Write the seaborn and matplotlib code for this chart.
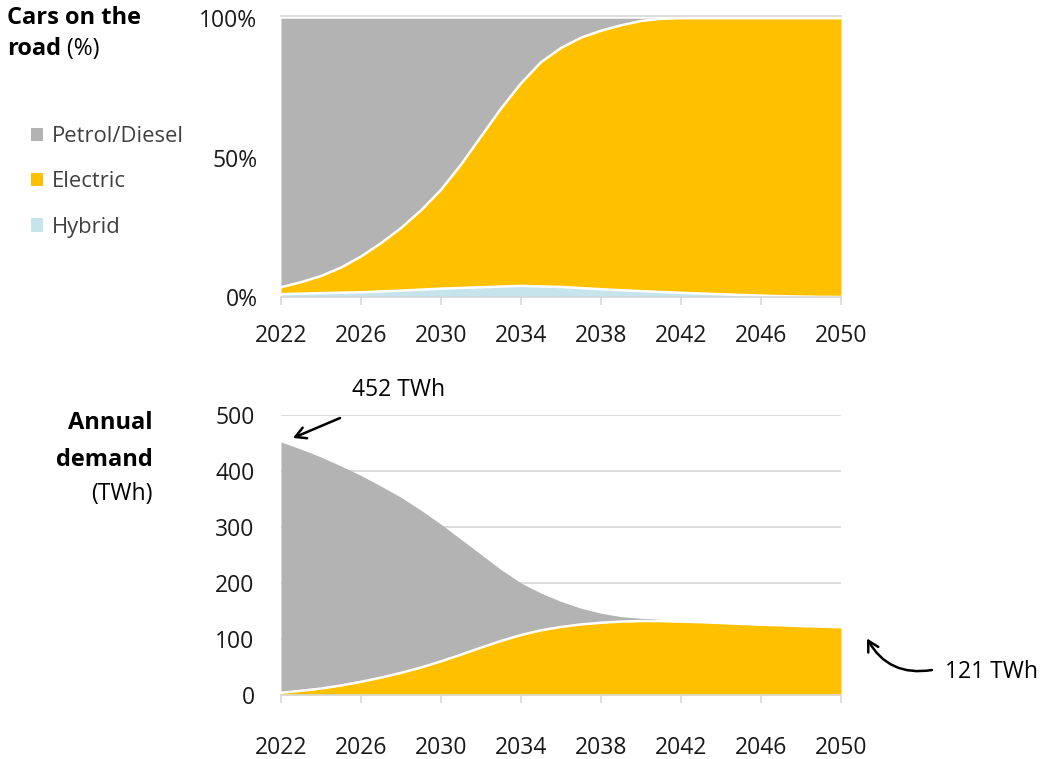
import matplotlib
matplotlib.use("Agg")
import matplotlib.pyplot as plt
from matplotlib.patches import Patch
import seaborn as sns
import pandas as pd

# ---- data -------------------------------------------------------------
years = list(range(2022, 2051))

# share of cars on the road (%)
share_hybrid = [1.0, 1.2, 1.4, 1.55, 1.7, 2.0, 2.3, 2.65, 3.0, 3.25, 3.5, 3.75,
                4.0, 3.8, 3.6, 3.2, 2.8, 2.45, 2.1, 1.8, 1.5, 1.25, 1.0, 0.75,
                0.5, 0.3, 0.15, 0.05, 0.0]
share_electric = [2.5, 4.1, 6.1, 9.0, 12.8, 17.3, 22.4, 28.4, 35.4, 44.2, 54.0,
                  63.8, 72.6, 80.4, 85.7, 89.8, 92.7, 95.0, 96.9, 98.0, 98.5,
                  98.75, 99.0, 99.25, 99.5, 99.7, 99.85, 99.95, 100.0]
share_petrol = [96.5, 94.7, 92.5, 89.45, 85.5, 80.7, 75.3, 68.95, 61.6, 52.55,
                42.5, 32.45, 23.4, 15.8, 10.7, 7.0, 4.5, 2.55, 1.0, 0.2, 0.0,
                0.0, 0.0, 0.0, 0.0, 0.0, 0.0, 0.0, 0.0]

# annual energy demand (TWh)
demand_electric = [4, 7.5, 11.5, 17, 23.5, 31, 39.5, 49, 60, 72, 84.5, 96.5,
                   107, 115.5, 121.5, 126, 129, 131, 132, 132, 131, 130, 128.5,
                   127, 125.5, 124.5, 123, 122, 121]
demand_petrol = [448, 431.5, 413.5, 392, 368.5, 342, 313.5, 281, 245, 206,
                 166.5, 127.5, 93, 66.5, 45.5, 29, 17, 9, 5, 3, 2, 1, 0.5,
                 0.5, 0.5, 0.5, 0, 0, 0]

series_names = ["Petrol/Diesel", "Electric", "Hybrid"]
x_ticks = [2022, 2026, 2030, 2034, 2038, 2042, 2046, 2050]
share_ticks = [0, 50, 100]
share_tick_labels = ["0%", "50%", "100%"]
demand_ticks = [0, 100, 200, 300, 400, 500]

first_label = "452 TWh"
last_label = "121 TWh"

# ---- style ------------------------------------------------------------
C_PETROL = "#b3b3b3"
C_ELEC = "#ffc000"
C_HYB = "#c6e4ec"
C_AXIS = "#d9d9d9"
FS = 16.5
FS_TITLE = 17
FS_LEG = 15.8

sns.set_theme(style="white")
plt.rcParams["font.family"] = ["Open Sans", "DejaVu Sans"]
plt.rcParams["font.size"] = FS

df_share = pd.DataFrame({"year": years, "hybrid": share_hybrid,
                         "electric": share_electric, "petrol": share_petrol})
df_share["hyb_top"] = df_share["hybrid"]
df_share["elec_top"] = df_share["hybrid"] + df_share["electric"]
df_share["pet_top"] = df_share["elec_top"] + df_share["petrol"]

df_dem = pd.DataFrame({"year": years, "electric": demand_electric,
                       "petrol": demand_petrol})
df_dem["total"] = df_dem["electric"] + df_dem["petrol"]

W, H = 1050, 759
fig = plt.figure(figsize=(W / 100, H / 100), dpi=100)

def px_axes(x0, y0, x1, y1):
    return fig.add_axes([x0 / W, 1 - y1 / H, (x1 - x0) / W, (y1 - y0) / H])

ax1 = px_axes(281, 16, 841, 297)
ax2 = px_axes(281, 415, 841, 695)

# ---- top: share of cars ----------------------------------------------
ax1.fill_between(df_share["year"], 0, df_share["hyb_top"], color=C_HYB, lw=0, zorder=2)
ax1.fill_between(df_share["year"], df_share["hyb_top"], df_share["elec_top"],
                 color=C_ELEC, lw=0, zorder=2)
ax1.fill_between(df_share["year"], df_share["elec_top"], df_share["pet_top"],
                 color=C_PETROL, lw=0, zorder=2)
sns.lineplot(data=df_share, x="year", y="hyb_top", ax=ax1, color="white",
             lw=1.8, zorder=3)
sns.lineplot(data=df_share, x="year", y="elec_top", ax=ax1, color="white",
             lw=1.8, zorder=3)

ax1.set_xlim(2022, 2050)
ax1.set_ylim(0, 100.8)
ax1.set_yticks(share_ticks)
ax1.set_yticklabels(share_tick_labels)
ax1.set_xticks(x_ticks)

# ---- bottom: annual demand -------------------------------------------
ax2.fill_between(df_dem["year"], 0, df_dem["electric"], color=C_ELEC, lw=0, zorder=2)
ax2.fill_between(df_dem["year"], df_dem["electric"], df_dem["total"],
                 color=C_PETROL, lw=0, zorder=2)
sns.lineplot(data=df_dem, x="year", y="electric", ax=ax2, color="white",
             lw=1.8, zorder=3)

ax2.set_xlim(2022, 2050)
ax2.set_ylim(0, 500)
ax2.set_yticks(demand_ticks)
ax2.set_xticks(x_ticks)
ax2.yaxis.grid(True, color=C_AXIS, lw=1.3, zorder=0)
ax2.set_axisbelow(True)

for ax, xpad, ypad in ((ax1, 14, 17), (ax2, 24, 19)):
    ax.set_xlabel("")
    ax.set_ylabel("")
    for s in ("left", "right"):
        ax.spines[s].set_visible(False)
    ax.spines["top"].set_visible(ax is ax1)
    ax.spines["top"].set_color(C_AXIS)
    ax.spines["bottom"].set_color(C_AXIS)
    ax.spines["bottom"].set_linewidth(1.2)
    ax.spines["bottom"].set_zorder(4)
    ax.tick_params(axis="x", direction="out", length=5.5, width=1.2,
                   color=C_AXIS, pad=xpad, labelsize=FS, labelcolor="#1a1a1a",
                   bottom=True)
    ax.tick_params(axis="y", length=0, pad=ypad, labelsize=FS,
                   labelcolor="#1a1a1a")
    ax.patch.set_alpha(0)

# ---- titles -----------------------------------------------------------
fig.text(7 / W, 1 - 18 / H, "Cars on the", fontweight="bold", fontsize=FS_TITLE,
         ha="left", va="center", color="black")
road = fig.text(7 / W, 1 - 49 / H, "road", fontweight="bold", fontsize=FS_TITLE,
                ha="left", va="center", color="black")
ax1.annotate(" (%)", xy=(1, 0.5), xycoords=road, ha="left", va="center",
             fontsize=FS, color="black", annotation_clip=False)

fig.text(153 / W, 1 - 423 / H, "Annual", fontweight="bold", fontsize=FS_TITLE,
         ha="right", va="center", color="black")
fig.text(153 / W, 1 - 460 / H, "demand", fontweight="bold", fontsize=FS_TITLE,
         ha="right", va="center", color="black")
fig.text(153 / W, 1 - 494 / H, "(TWh)", fontsize=FS, ha="right", va="center",
         color="black")

# ---- legend -----------------------------------------------------------
handles = [Patch(facecolor=C_PETROL, edgecolor="none"),
           Patch(facecolor=C_ELEC, edgecolor="none"),
           Patch(facecolor=C_HYB, edgecolor="none")]
fig.legend(handles, series_names, loc="upper left",
           bbox_to_anchor=(31 / W, 1 - 126 / H), frameon=False,
           fontsize=FS_LEG, handlelength=0.55, handleheight=0.55,
           handletextpad=0.4, labelspacing=1.11, borderpad=0,
           borderaxespad=0, labelcolor="#404040")

# ---- annotations ------------------------------------------------------
ax2.text(2027.9, 545, first_label, ha="center", va="center", fontsize=FS,
         color="black", clip_on=False)
ax2.annotate("", xy=(2022.6, 459), xytext=(2024.95, 494.6),
             arrowprops=dict(arrowstyle="->,head_length=0.45,head_width=0.25",
                             lw=1.8, color="black", shrinkA=0, shrinkB=0),
             annotation_clip=False)

ax2.text(2055.2, 41, last_label, ha="left", va="center", fontsize=FS,
         color="black", clip_on=False)
ax2.annotate("", xy=(2051.3, 101), xytext=(2054.55, 44.6),
             arrowprops=dict(arrowstyle="->,head_length=0.45,head_width=0.25",
                             lw=1.8, color="black", shrinkA=0, shrinkB=0,
                             connectionstyle="arc3,rad=-0.35"),
             annotation_clip=False)

fig.savefig("out.png", dpi=100)
